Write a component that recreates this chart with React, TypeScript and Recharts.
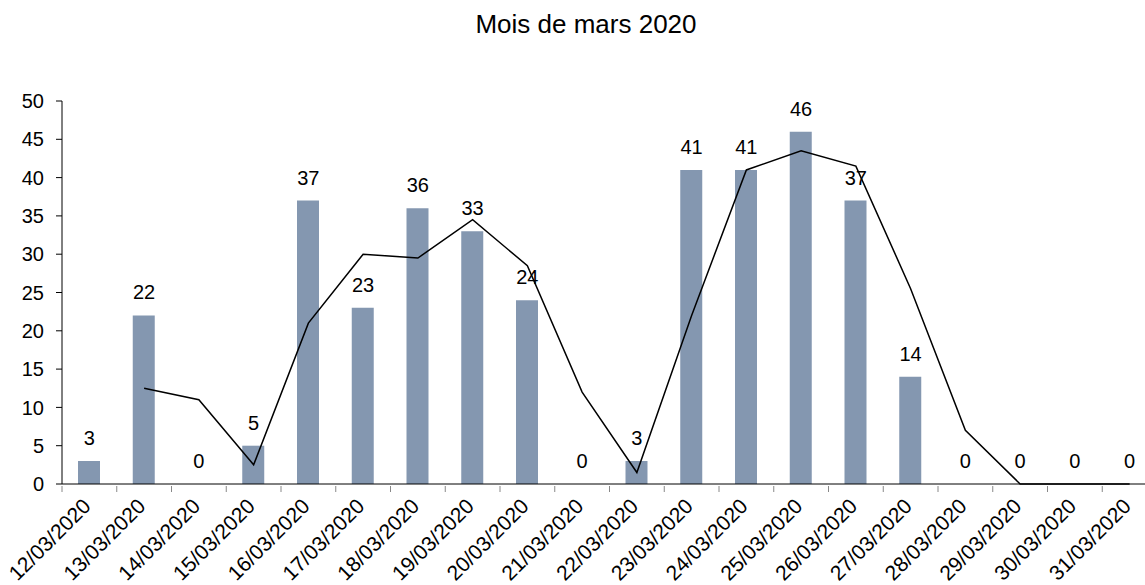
import React from "react";
import { ComposedChart, Bar, Line, XAxis, YAxis, LabelList } from "recharts";

const dates = [
  "12/03/2020", "13/03/2020", "14/03/2020", "15/03/2020", "16/03/2020",
  "17/03/2020", "18/03/2020", "19/03/2020", "20/03/2020", "21/03/2020",
  "22/03/2020", "23/03/2020", "24/03/2020", "25/03/2020", "26/03/2020",
  "27/03/2020", "28/03/2020", "29/03/2020", "30/03/2020", "31/03/2020",
];
const cases = [3, 22, 0, 5, 37, 23, 36, 33, 24, 0, 3, 41, 41, 46, 37, 14, 0, 0, 0, 0];
const movingAvg = [null, 12.5, 11, 2.5, 21, 30, 29.5, 34.5, 28.5, 12, 1.5, 22, 41, 43.5, 41.5, 25.5, 7, 0, 0, 0];
const yTicks = [0, 5, 10, 15, 20, 25, 30, 35, 40, 45, 50];

const data = dates.map((d, i) => ({ date: d, cases: cases[i], avg: movingAvg[i] }));

const FONT = "'Liberation Sans', Arial, sans-serif";

const XTick = (props: any) => {
  const { x, y, payload } = props;
  const half = payload && typeof payload.offset === "number" && payload.offset > 0 ? payload.offset : 27.37;
  return (
    <g>
      <line x1={x - half} x2={x - half} y1={y - 6} y2={y} stroke="#888" strokeWidth={1} />
      <g transform={`translate(${x - 8},${y + 5})`}>
        <text
          transform="rotate(-45)"
          textAnchor="end"
          dy="0.71em"
          fontSize={21}
          fontFamily={FONT}
          fill="#000"
        >
          {payload.value}
        </text>
      </g>
    </g>
  );
};

export default function App() {
  return (
    <div style={{ position: "absolute", left: 0, top: 0, width: 1145, height: 585, overflow: "hidden", background: "#fff" }}>
      <div
        style={{
          position: "absolute",
          left: 0,
          width: 1172,
          top: 9,
          textAlign: "center",
          fontFamily: FONT,
          fontSize: 26,
          color: "#000",
        }}
      >
        Mois de mars 2020
      </div>
      <ComposedChart
        width={1170}
        height={585}
        data={data}
        margin={{ top: 101, right: 13, bottom: 0, left: 0 }}
        barSize={22}
        style={{ overflow: "visible" }}
      >
        <XAxis
          dataKey="date"
          height={101}
          interval={0}
          tickSize={6}
          tick={<XTick />}
          axisLine={{ stroke: "#000" }}
          tickLine={false}
        />
        <YAxis
          width={62}
          domain={[0, 50]}
          ticks={yTicks}
          interval={0}
          tickSize={6}
          tickMargin={12}
          axisLine={{ stroke: "#000" }}
          tickLine={{ stroke: "#000" }}
          tick={{ fontSize: 20, fontFamily: FONT, fill: "#000" }}
        />
        <Bar dataKey="cases" fill="#8497B0" isAnimationActive={false} />
        <Line
          dataKey="cases"
          stroke="none"
          dot={false}
          activeDot={false}
          isAnimationActive={false}
        >
          <LabelList
            dataKey="cases"
            position="top"
            offset={16}
            style={{ fontSize: 20, fontFamily: FONT, fill: "#000" }}
          />
        </Line>
        <Line
          dataKey="avg"
          type="linear"
          stroke="#000"
          strokeWidth={1.5}
          dot={false}
          activeDot={false}
          connectNulls={false}
          isAnimationActive={false}
        />
      </ComposedChart>
    </div>
  );
}
